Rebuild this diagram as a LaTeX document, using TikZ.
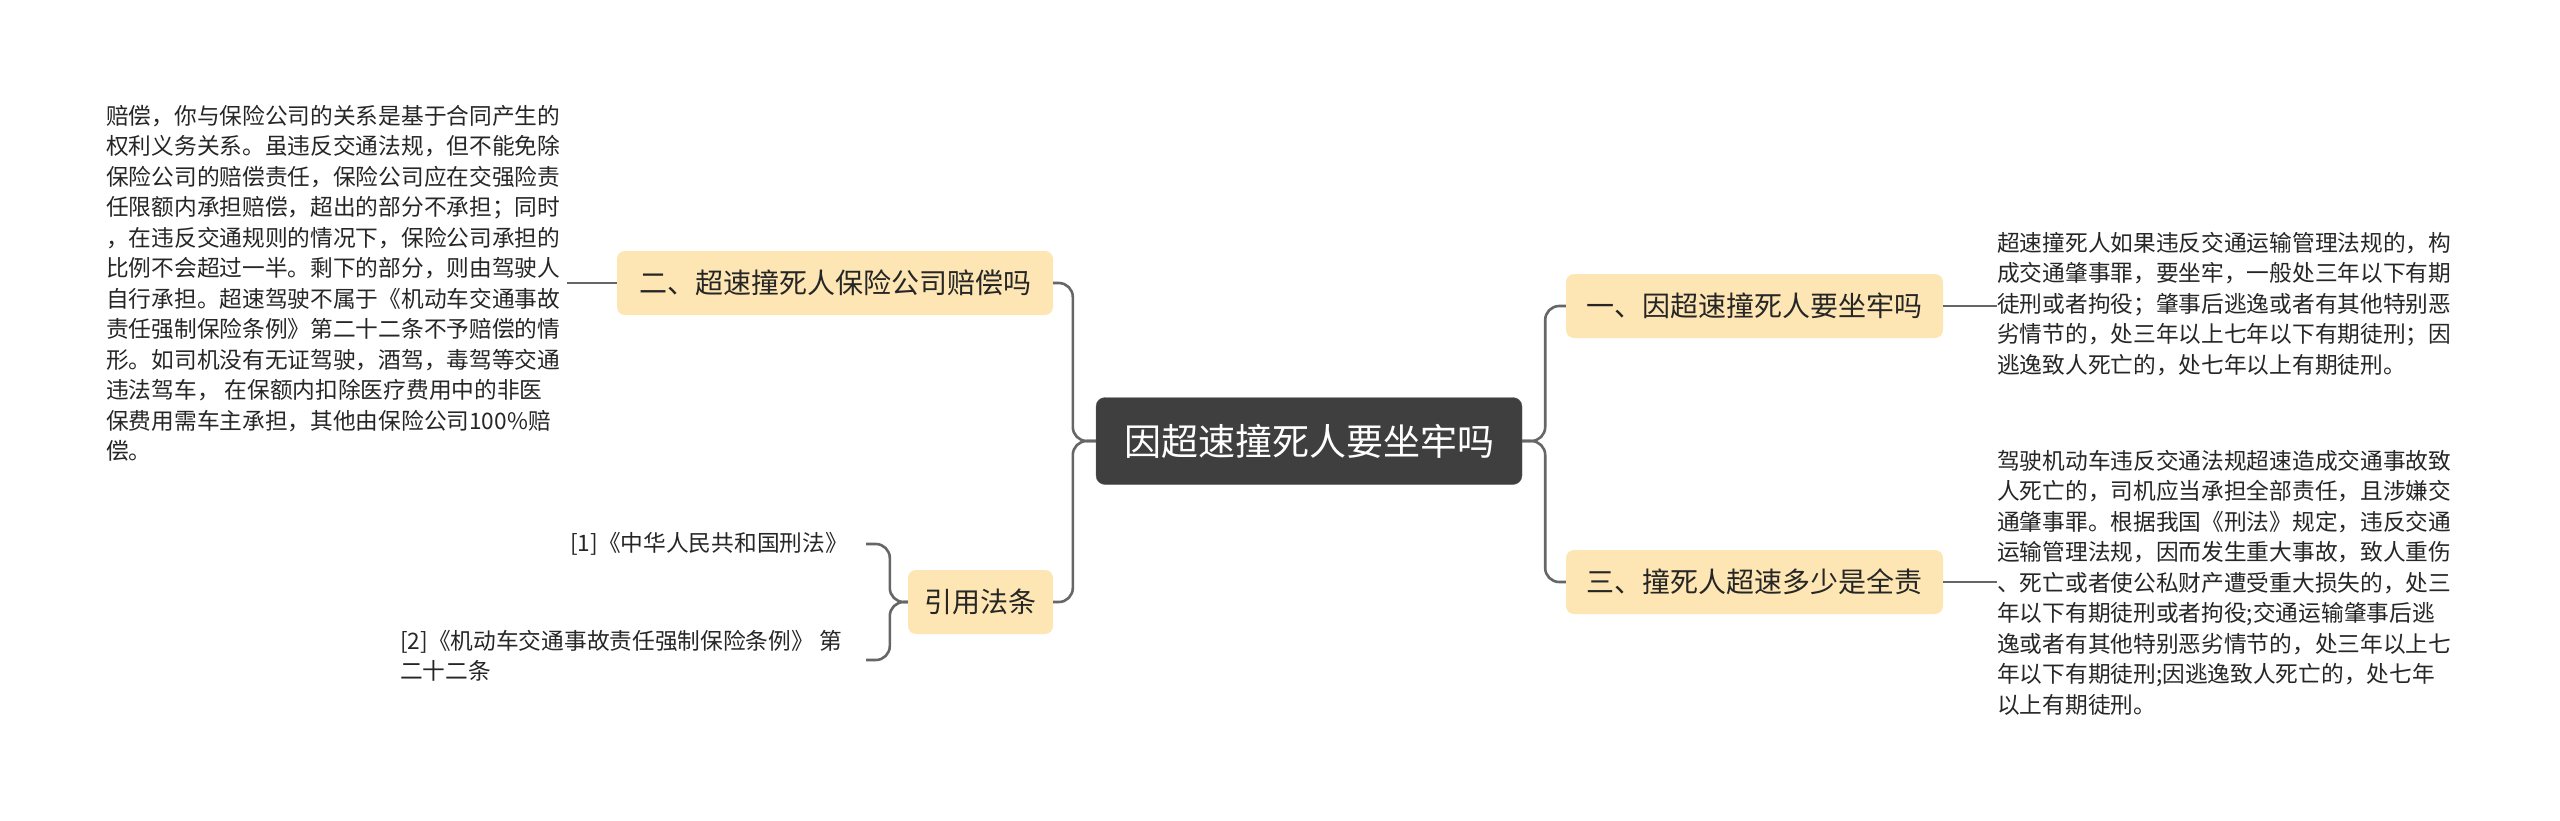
\documentclass[tikz,border=0pt]{standalone}
\usepackage{fontspec}
\setmainfont{Noto Sans CJK SC}
\definecolor{br}{HTML}{FDE6B3}
\definecolor{ctr}{HTML}{3F3F3F}
\definecolor{ln}{HTML}{666666}
\begin{document}
\begin{tikzpicture}[x=1pt,y=-1pt,
  branch/.style={fill=br,rounded corners=8pt,inner sep=0pt,minimum height=64pt,font=\fontsize{28}{34}\selectfont,text=black!85},
  leaf/.style={inner sep=0pt,align=left,anchor=north west,font=\fontsize{22.7}{30.5}\selectfont,text=black!85},
  conn/.style={draw=ln,line width=2.6pt,rounded corners=14pt}]
\useasboundingbox (0,0) rectangle (2560,820);
\node[fill=ctr,draw=black!60,rounded corners=9pt,minimum width=426pt,minimum height=87pt,inner sep=0pt,text=white,font=\fontsize{37}{42}\selectfont] (c) at (1309,441) {因超速撞死人要坐牢吗};
\node[branch,minimum width=377pt] (b1) at (1754.5,306) {一、因超速撞死人要坐牢吗};
\node[branch,minimum width=377pt] (b3) at (1754.5,582) {三、撞死人超速多少是全责};
\node[branch,minimum width=436pt] (b2) at (835,283) {二、超速撞死人保险公司赔偿吗};
\node[branch,minimum width=145pt] (b4) at (980.5,602) {引用法条};
\node[leaf] (t1) at (1997,232) {超速撞死人如果违反交通运输管理法规的，构\\成交通肇事罪，要坐牢，一般处三年以下有期\\徒刑或者拘役；肇事后逃逸或者有其他特别恶\\劣情节的，处三年以上七年以下有期徒刑；因\\逃逸致人死亡的，处七年以上有期徒刑。};
\node[leaf] (t3) at (1997,450) {驾驶机动车违反交通法规超速造成交通事故致\\人死亡的，司机应当承担全部责任，且涉嫌交\\通肇事罪。根据我国《刑法》规定，违反交通\\运输管理法规，因而发生重大事故，致人重伤\\、死亡或者使公私财产遭受重大损失的，处三\\年以下有期徒刑或者拘役;交通运输肇事后逃\\逸或者有其他特别恶劣情节的，处三年以上七\\年以下有期徒刑;因逃逸致人死亡的，处七年\\以上有期徒刑。};
\node[leaf] (t2) at (106,105) {赔偿，你与保险公司的关系是基于合同产生的\\权利义务关系。虽违反交通法规，但不能免除\\保险公司的赔偿责任，保险公司应在交强险责\\任限额内承担赔偿，超出的部分不承担；同时\\，在违反交通规则的情况下，保险公司承担的\\比例不会超过一半。剩下的部分，则由驾驶人\\自行承担。超速驾驶不属于《机动车交通事故\\责任强制保险条例》第二十二条不予赔偿的情\\形。如司机没有无证驾驶，酒驾，毒驾等交通\\违法驾车， 在保额内扣除医疗费用中的非医\\保费用需车主承担，其他由保险公司100\%赔\\偿。};
\node[leaf,anchor=east] (r1) at (848,544) {[1]《中华人民共和国刑法》};
\node[leaf] (r2) at (400,630) {[2]《机动车交通事故责任强制保险条例》 第\\二十二条};
\coordinate (r2e) at (866,660);
\coordinate (r1e) at (866,544);
\coordinate (t2e) at (567,283);
\draw[conn] (c.east) -- ++(23,0) |- (b1.west);
\draw[conn] (c.east) -- ++(23,0) |- (b3.west);
\draw[conn] (c.west) -- ++(-23,0) |- (b2.east);
\draw[conn] (c.west) -- ++(-23,0) |- (b4.east);
\draw[conn] (b1.east) -- (t1.west |- b1.east);
\draw[conn] (b3.east) -- (t3.west |- b3.east);
\draw[conn] (b2.west) -- (t2e);
\draw[conn] (b4.west) -- ++(-18,0) |- (r1e);
\draw[conn] (b4.west) -- ++(-18,0) |- (r2e);
\end{tikzpicture}
\end{document}
